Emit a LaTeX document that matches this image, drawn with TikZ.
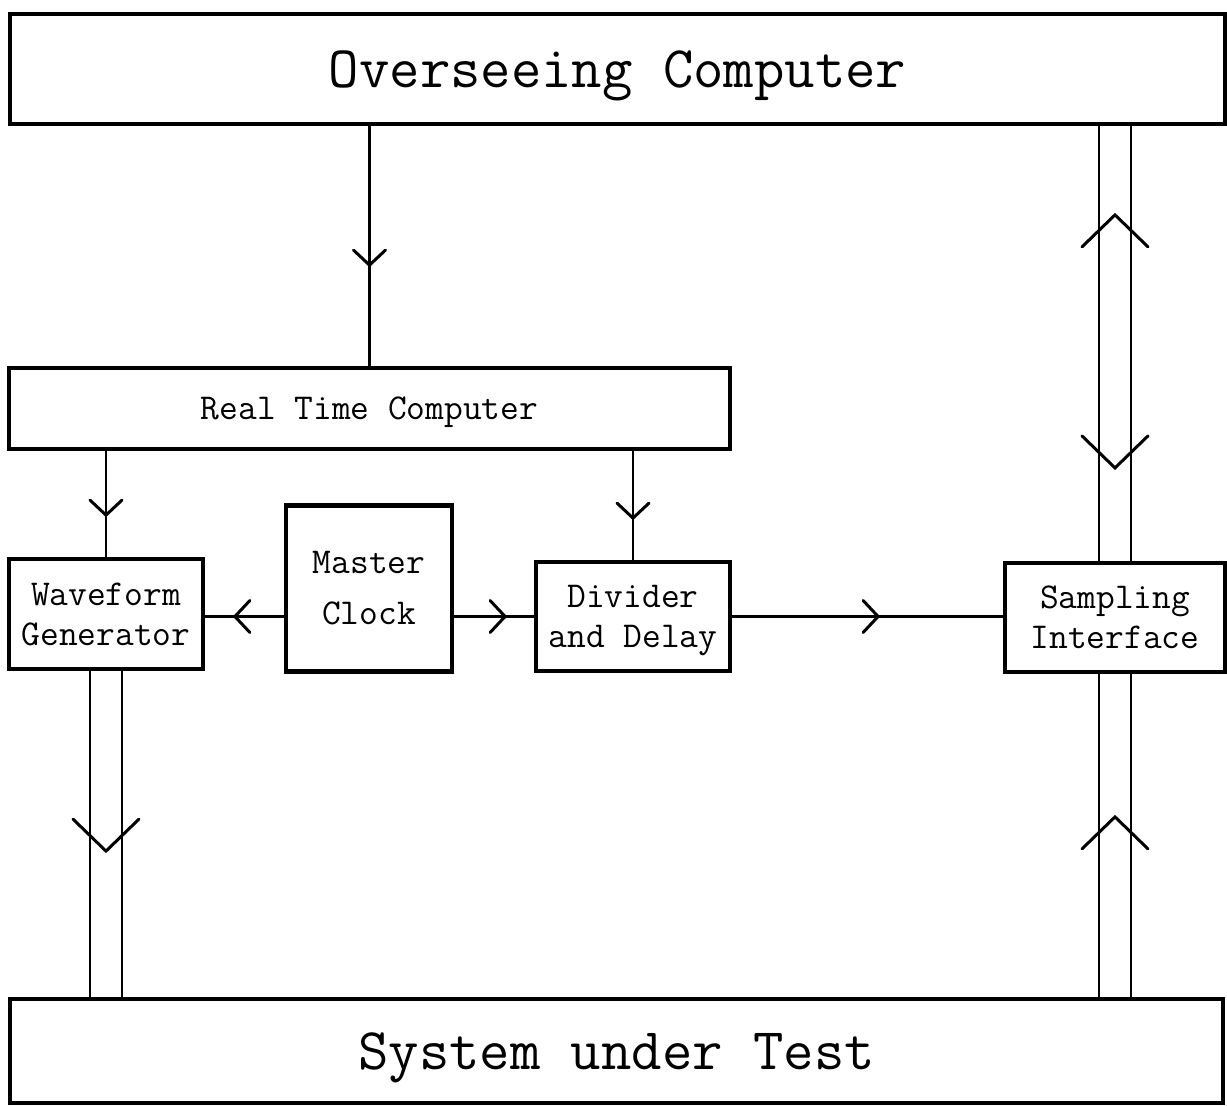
\documentclass[tikz,border=0pt]{standalone}
\usetikzlibrary{decorations.markings,backgrounds}
\tikzset{
  box/.style={draw, line width=4.2pt, inner sep=0pt, align=center,
    font=\ttfamily\fontsize{36.4}{40}\selectfont},
  bigtxt/.style={font=\ttfamily\fontsize{59}{62}\selectfont},
  nodesc/.style={text depth=0pt},
  conn/.style={line width=2.6pt},
  dbl/.style={line width=2.6pt, double=white, double distance=29.5pt},
  chevS/.style={postaction={decorate, decoration={markings,
    mark=at position #1 with {\draw[line width=3pt, line cap=round]
      (-15pt,16pt) -- (0pt,0pt) -- (-15pt,-16pt);}}}},
  chevB/.style={decorate, decoration={markings,
    mark=at position #1 with {\draw[line width=3pt, line cap=round]
      (-32pt,33pt) -- (0pt,0pt) -- (-32pt,-33pt);}}},
  chevBrev/.style={decorate, decoration={markings,
    mark=at position #1 with {\draw[line width=3pt, line cap=round]
      (32pt,33pt) -- (0pt,0pt) -- (32pt,-33pt);}}},
}
\begin{document}
\begin{tikzpicture}[x=1pt,y=-1pt]
\useasboundingbox (0,0) rectangle (1227,1106);
\node[box, bigtxt, nodesc, minimum width=1215pt, minimum height=110pt] (oc) at (617.5,69) {Overseeing Computer};
\node[box, nodesc, minimum width=721pt, minimum height=81pt] (rt) at (369.5,408.5) {Real Time Computer};
\node[box, minimum width=194pt, minimum height=110pt] (wg) at (106,614) {Waveform\\Generator};
\node[box, minimum width=166pt, minimum height=166pt,
  font=\ttfamily\fontsize{36.4}{51}\selectfont] (mc) at (369,588.5) {Master\\Clock};
\node[box, nodesc, minimum width=194pt, minimum height=109pt] (dd) at (633,616.5) {Divider\\and Delay};
\node[box, minimum width=220pt, minimum height=109pt] (si) at (1115,617.5) {Sampling\\Interface};
\node[box, bigtxt, nodesc, minimum width=1213pt, minimum height=104pt] (sut) at (616.5,1051) {System under Test};
\begin{scope}[on background layer]
  \draw[conn, chevS=139pt] (oc.south -| rt.north) -- (rt.north);
  \draw[conn, chevS=64pt] (rt.south -| wg.north) -- (wg.north);
  \draw[conn, chevS=67pt] (rt.south -| dd.north) -- (dd.north);
  \draw[conn, chevS=49pt] (mc.west |- dd.west) -- (wg.east |- dd.west);
  \draw[conn, chevS=51pt] (mc.east |- dd.west) -- (dd.west);
  \draw[conn, chevS=146pt] (dd.east) -- (si.west |- dd.east);
  \draw[dbl] (wg.south) -- (wg.south |- sut.north);
  \draw[dbl] (si.south |- sut.north) -- (si.south);
  \draw[dbl] (si.north) -- (si.north |- oc.south);
\end{scope}
\path[chevB=180pt] (wg.south) -- (wg.south |- sut.north);
\path[chevB=180pt] (si.south |- sut.north) -- (si.south);
\path[chevB=346pt] (si.north) -- (si.north |- oc.south);
\path[chevBrev=93pt] (si.north) -- (si.north |- oc.south);
\end{tikzpicture}
\end{document}
